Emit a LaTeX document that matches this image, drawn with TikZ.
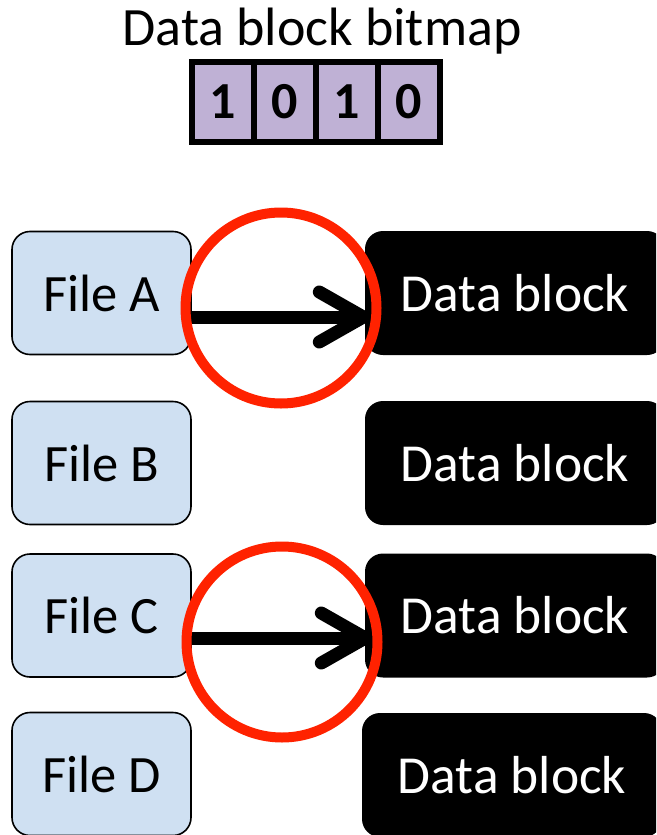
\documentclass[tikz,border=0pt]{standalone}
\usepackage{fontspec}
\setmainfont{Carlito}
\usetikzlibrary{arrows.meta,shadows}
\definecolor{filefill}{HTML}{CFE0F2}
\definecolor{bitfill}{HTML}{BFB1D5}
\definecolor{ringred}{HTML}{FF2200}
\begin{document}
\begin{tikzpicture}[x=1pt,y=-1pt,
  filebox/.style={draw=black, line width=1.6pt, fill=filefill, rounded corners=18pt,
    minimum width=179pt, minimum height=123pt, inner sep=0pt,
    font=\fontsize{52.5}{62}\selectfont},
  blockbox/.style={fill=black, text=white, rounded corners=18pt,
    minimum width=300pt, minimum height=124pt, inner sep=0pt,
    font=\fontsize{53.5}{64}\selectfont},
  bitcell/.style={draw=black, line width=5.5pt, fill=bitfill,
    minimum width=62pt, minimum height=80pt, inner sep=0pt,
    font=\bfseries\fontsize{52}{60}\selectfont},
  ring/.style={draw=ringred, line width=10pt},
  link/.style={draw=black, line width=13pt, line cap=round,
    -{Straight Barb[length=44pt, width=50pt, line cap=round, line join=round]}}
]
\clip (0,0) rectangle (656,835);
\useasboundingbox (0,0) rectangle (656,835);

% title and bitmap
\node (title) at (322,31) {\fontsize{54}{64}\selectfont Data block bitmap};
\begin{scope}[every node/.append style={drop shadow={opacity=0.25, shadow xshift=1pt, shadow yshift=-3pt}}]
\node[bitcell] (b1) at (223,102) {1};
\node[bitcell] (b2) at (285,102) {0};
\node[bitcell] (b3) at (347,102) {1};
\node[bitcell] (b4) at (409,102) {0};
\end{scope}

% files
\node[filebox] (fa) at (101.5,293) {File A};
\node[filebox] (fb) at (101.5,463) {File B};
\node[filebox] (fc) at (101.5,615.5) {File C};
\node[filebox] (fd) at (101.5,774) {File D};

% data blocks
\node[blockbox] (da) at (515,293) {Data block};
\node[blockbox] (db) at (515,463) {Data block};
\node[blockbox] (dc) at (515,615.5) {Data block};
\node[blockbox] (dd) at (512,775) {Data block};

% pointers
\draw[link] ([yshift=-24pt]fa.east) -- ([xshift=5pt,yshift=-24pt]da.west);
\draw[link] ([yshift=-22.5pt]fc.east) -- ([xshift=7pt,yshift=-22.5pt]dc.west);

% highlight rings
\node[ring, circle, minimum size=191pt, inner sep=0pt] (ra) at (281,308) {};
\node[ring, circle, minimum size=191pt, inner sep=0pt] (rc) at (282,642) {};
\end{tikzpicture}
\end{document}
